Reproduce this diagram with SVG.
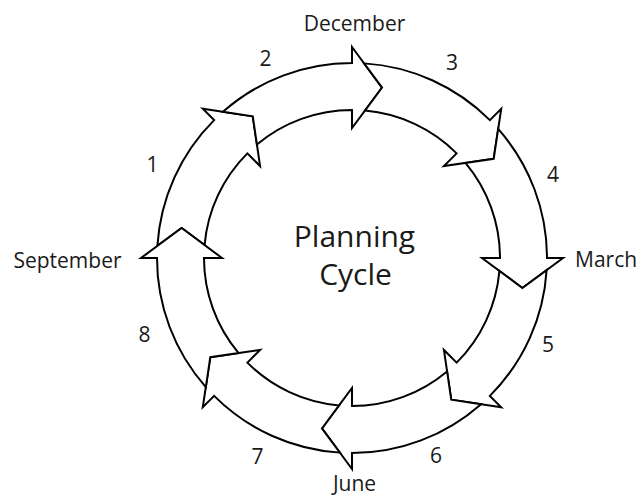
<svg xmlns="http://www.w3.org/2000/svg" xmlns:xlink="http://www.w3.org/1999/xlink" width="640" height="498" viewBox="0 0 640 498">
<style>
.seg{fill:#fff;stroke:#000;stroke-width:2;stroke-linejoin:miter;stroke-miterlimit:10}
.lbl{font-family:"Open Sans","Liberation Sans",sans-serif;font-size:21px;fill:#1a1a1a}
.num{font-family:"Open Sans","Liberation Sans",sans-serif;font-size:21px;fill:#1a1a1a;text-anchor:middle}
.title{font-family:"Open Sans","Liberation Sans",sans-serif;font-size:30px;fill:#1a1a1a;text-anchor:middle}
</style>
<defs>
<path id="arrow" class="seg" d="M -129.07,-146.17 A 195 195 0 0 1 0,-195 L 0,-211 L 30.04,-170.37 L 0,-130 L 0,-148 A 148 148 0 0 0 -95.08,-113.41 L -99.23,-141.72 Z"/>
</defs>
<rect width="640" height="498" fill="#fff"/>
<g id="connectors">
<g id="arrow1"><use xlink:href="#arrow" href="#arrow" transform="translate(352,258) rotate(315)"/></g>
<g id="arrow2"><use xlink:href="#arrow" href="#arrow" transform="translate(352,258) rotate(0)"/></g>
<g id="arrow3"><use xlink:href="#arrow" href="#arrow" transform="translate(352,258) rotate(45)"/></g>
<g id="arrow4"><use xlink:href="#arrow" href="#arrow" transform="translate(352,258) rotate(90)"/></g>
<g id="arrow5"><use xlink:href="#arrow" href="#arrow" transform="translate(352,258) rotate(135)"/></g>
<g id="arrow6"><use xlink:href="#arrow" href="#arrow" transform="translate(352,258) rotate(180)"/></g>
<g id="arrow7"><use xlink:href="#arrow" href="#arrow" transform="translate(352,258) rotate(225)"/></g>
<g id="arrow8"><use xlink:href="#arrow" href="#arrow" transform="translate(352,258) rotate(270)"/></g>
</g>
<g id="center"><text class="title" x="354.5" y="247">Planning</text><text class="title" x="355.5" y="285">Cycle</text></g>
<g id="december"><text class="lbl" x="354.5" y="31" text-anchor="middle">December</text></g>
<g id="march"><text class="lbl" x="575" y="267">March</text></g>
<g id="june"><text class="lbl" x="354.5" y="491" text-anchor="middle">June</text></g>
<g id="september"><text class="lbl" x="67.5" y="268" text-anchor="middle">September</text></g>
<g id="numbers">
<text class="num" x="152.5" y="172">1</text>
<text class="num" x="265.5" y="66">2</text>
<text class="num" x="452" y="70">3</text>
<text class="num" x="553" y="182">4</text>
<text class="num" x="548" y="352">5</text>
<text class="num" x="436" y="463">6</text>
<text class="num" x="257.5" y="464">7</text>
<text class="num" x="144.5" y="342">8</text>
</g>
</svg>
